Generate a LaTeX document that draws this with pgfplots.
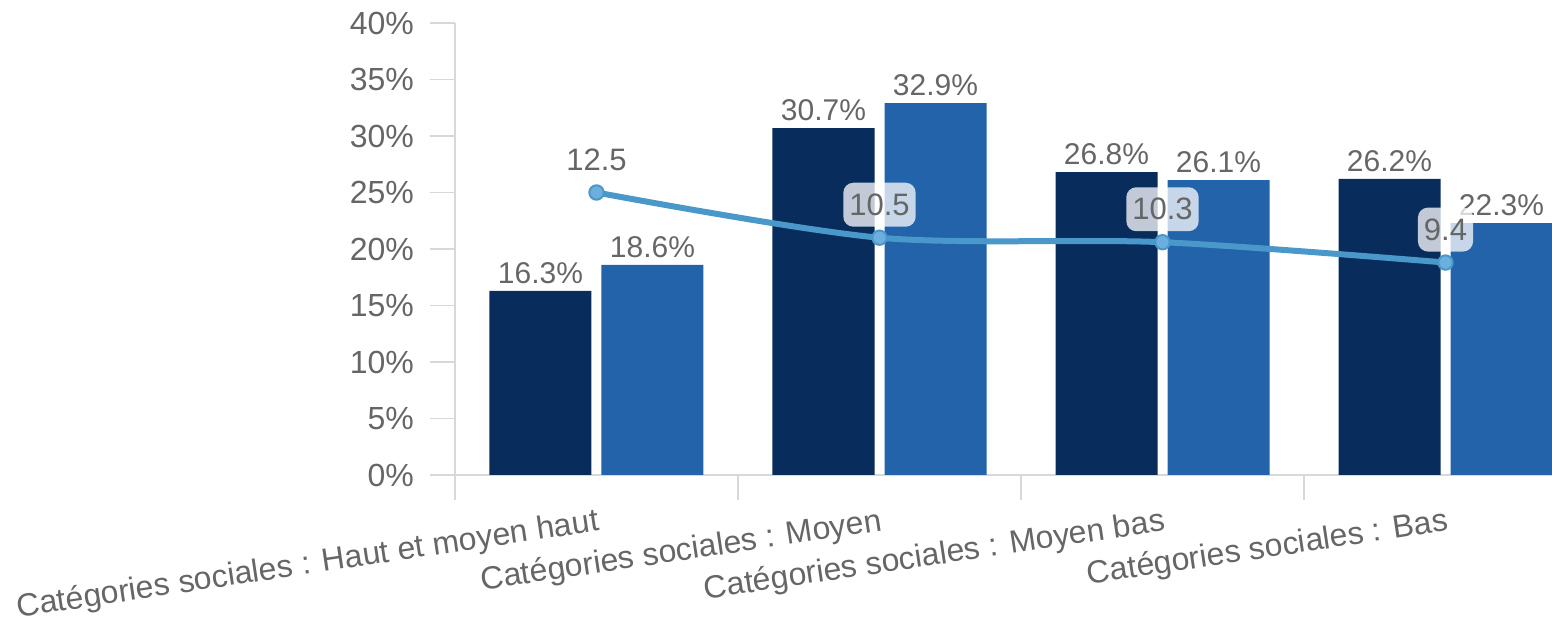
\documentclass[border=0pt]{standalone}
\usepackage{fontspec}
\setmainfont{Liberation Sans}
\usepackage{pgfplots}
\pgfplotsset{compat=1.18}
\definecolor{darkbar}{HTML}{082D5C}
\definecolor{lightbar}{HTML}{2263AA}
\definecolor{linec}{HTML}{4A97C9}
\definecolor{markc}{HTML}{6CAEDD}
\definecolor{txt}{HTML}{666666}
\definecolor{axc}{HTML}{D8D8D8}
\begin{document}
\begin{tikzpicture}
\pgfplotsset{/pgf/number format/assume math mode=true}
\begin{axis}[name=ax, at={(0,0)}, anchor=south west,
  scale only axis, width=566pt, height=226pt,
  xmin=0, xmax=4, ymin=0, ymax=40,
  ybar=5pt, bar width=51pt,
  axis x line=bottom, axis y line=left,
  axis line style={draw=axc, line width=0.8pt, -},
  xtick={0.5,1.5,2.5,3.5},
  xticklabels={Catégories sociales : Haut et moyen haut, Catégories sociales : Moyen, Catégories sociales : Moyen bas, Catégories sociales : Bas},
  x tick label style={rotate=8.5, anchor=north east, font=\fontsize{16}{19}\selectfont, text=txt, xshift=3pt, yshift=0pt},
  xtick style={draw=none},
  extra x ticks={0,1,2,3,4},
  extra x tick labels={},
  extra x tick style={xtick style={draw=axc, line width=0.8pt}, major tick length=12.5pt, tick align=outside},
  ytick={0,5,...,40},
  yticklabel={\pgfmathprintnumber{\tick}\%},
  y tick label style={font=\fontsize{16}{19}\selectfont, text=txt, xshift=-4.5pt},
  ytick style={draw=axc, line width=0.8pt},
  major tick length=12.5pt, tick align=outside,
  nodes near coords={\pgfmathprintnumber[fixed,precision=1,fixed zerofill]{\pgfplotspointmeta}\%},
  nodes near coords style={font=\fontsize{15}{18}\selectfont, text=txt},
]
\addplot[fill=darkbar, draw=none] coordinates {(0.5,16.3) (1.5,30.7) (2.5,26.8) (3.5,26.2)};
\addplot[fill=lightbar, draw=none] coordinates {(0.5,18.6) (1.5,32.9) (2.5,26.1) (3.5,22.3)};
\end{axis}
\begin{axis}[at={(0,0)}, anchor=south west,
  scale only axis, width=566pt, height=226pt,
  xmin=0, xmax=4, ymin=0, ymax=20, hide axis, clip=false]
\addplot[linec, line width=3pt, smooth, mark=*, mark size=3.6pt,
  mark options={fill=markc, draw=linec, line width=1pt},
  nodes near coords={\pgfmathprintnumber{\pgfplotspointmeta}},
  nodes near coords style={font=\fontsize{15.5}{18}\selectfont, text=txt, fill=white, fill opacity=0.75, text opacity=1, rounded corners=5pt, inner xsep=3pt, inner ysep=5.5pt, anchor=south, yshift=5pt}]
  coordinates {(0.5,12.5) (1.5,10.5) (2.5,10.3) (3.5,9.4)};
\end{axis}
\pgfresetboundingbox
\path[use as bounding box] (-227.5pt,-75pt) rectangle (548.5pt,237.5pt);
\end{tikzpicture}
\end{document}
